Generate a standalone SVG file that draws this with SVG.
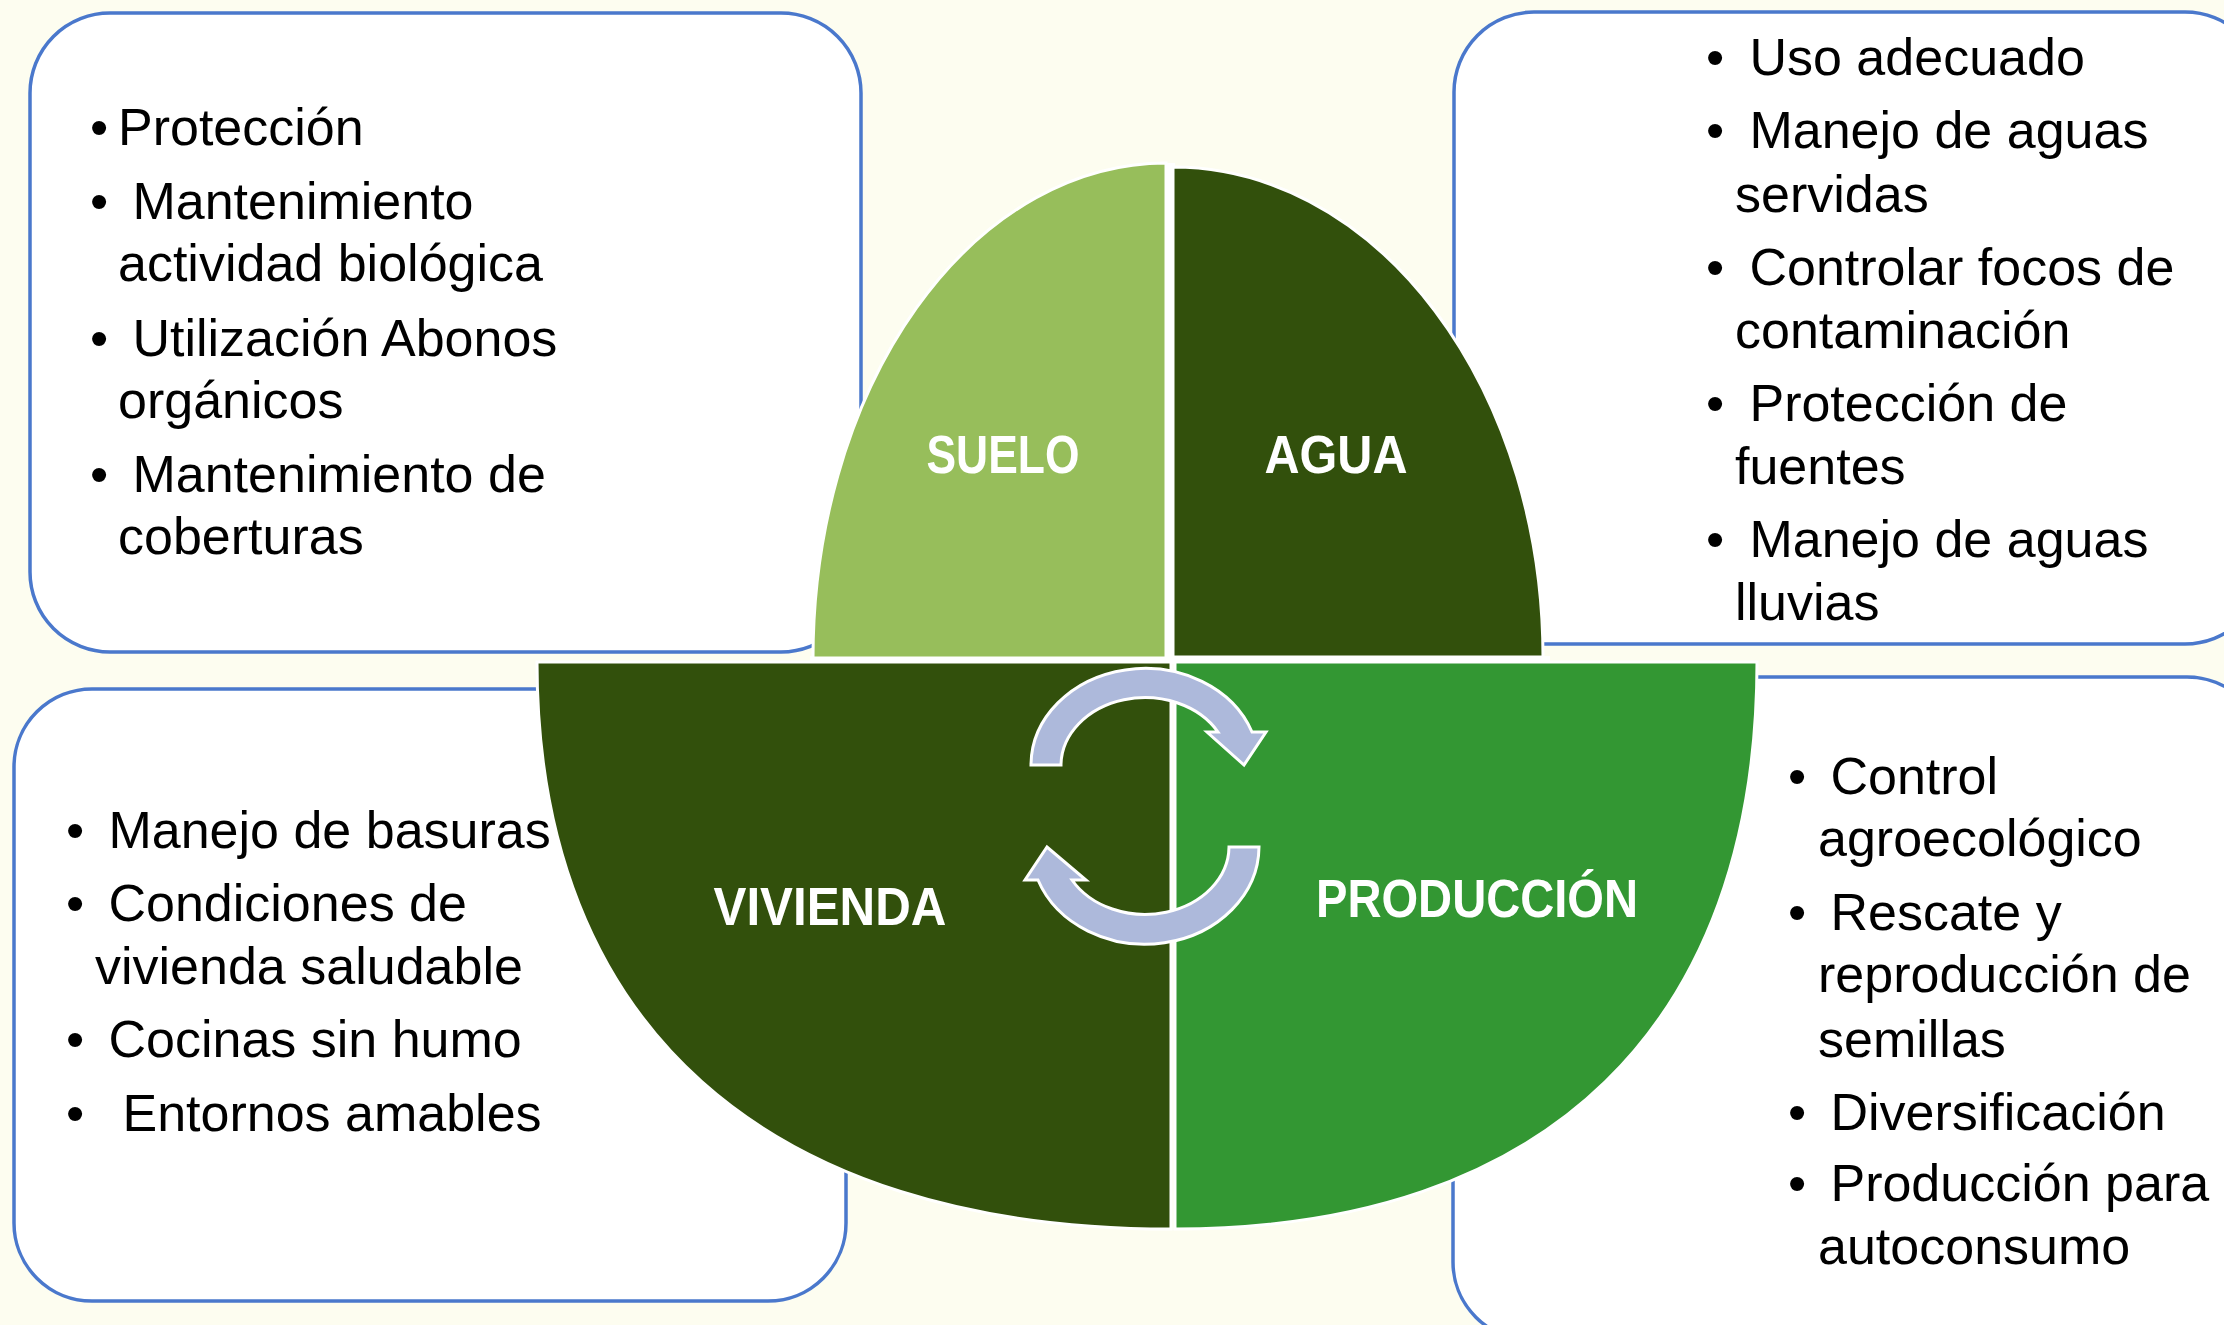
<svg xmlns="http://www.w3.org/2000/svg" width="2224" height="1325" viewBox="0 0 2224 1325">
<style>
.box{fill:#FFFFFF;stroke:#4A78CC;stroke-width:3.5}
.t{font-family:"Liberation Sans",Arial,sans-serif;font-size:52px;fill:#000000}
.lbl{font-family:"Liberation Sans",Arial,sans-serif;font-size:54px;font-weight:bold;fill:#FFFFFF;text-anchor:middle}
.q{stroke:#FFFFFF;stroke-width:3}
.arrow{fill:#ADB9DB;stroke:#FFFFFF;stroke-width:3;stroke-linejoin:miter}
</style>
<rect x="0" y="0" width="2224" height="1325" fill="#FDFDF0"/>

<g id="box-suelo">
<rect class="box" x="30" y="13" width="831" height="639" rx="80" ry="80"/>
<text class="t" y="145"><tspan x="90">•</tspan><tspan x="118">Protección</tspan></text>
<text class="t" y="219"><tspan x="90">•</tspan><tspan x="118"> Mantenimiento</tspan></text>
<text class="t" x="118" y="281">actividad biológica</text>
<text class="t" y="356"><tspan x="90">•</tspan><tspan x="118"> Utilización Abonos</tspan></text>
<text class="t" x="118" y="418">orgánicos</text>
<text class="t" y="492"><tspan x="90">•</tspan><tspan x="118"> Mantenimiento de</tspan></text>
<text class="t" x="118" y="554">coberturas</text>
</g>

<g id="box-agua">
<rect class="box" x="1454" y="12" width="811" height="632" rx="80" ry="80"/>
<text class="t" y="75"><tspan x="1706">•</tspan><tspan x="1735"> Uso adecuado</tspan></text>
<text class="t" y="148"><tspan x="1706">•</tspan><tspan x="1735"> Manejo de aguas</tspan></text>
<text class="t" x="1735" y="212">servidas</text>
<text class="t" y="285"><tspan x="1706">•</tspan><tspan x="1735"> Controlar focos de</tspan></text>
<text class="t" x="1735" y="348">contaminación</text>
<text class="t" y="421"><tspan x="1706">•</tspan><tspan x="1735"> Protección de</tspan></text>
<text class="t" x="1735" y="484">fuentes</text>
<text class="t" y="557"><tspan x="1706">•</tspan><tspan x="1735"> Manejo de aguas</tspan></text>
<text class="t" x="1735" y="620">lluvias</text>
</g>

<g id="box-vivienda">
<rect class="box" x="14" y="689" width="832" height="612" rx="78" ry="78"/>
<text class="t" y="848"><tspan x="66">•</tspan><tspan x="94"> Manejo de basuras</tspan></text>
<text class="t" y="921"><tspan x="66">•</tspan><tspan x="94"> Condiciones de</tspan></text>
<text class="t" x="95" y="984">vivienda saludable</text>
<text class="t" y="1057"><tspan x="66">•</tspan><tspan x="94"> Cocinas sin humo</tspan></text>
<text class="t" y="1131"><tspan x="66">•</tspan><tspan x="108"> Entornos amables</tspan></text>
</g>

<g id="box-produccion">
<rect class="box" x="1453" y="677" width="812" height="663" rx="78" ry="78"/>
<text class="t" y="794"><tspan x="1788">•</tspan><tspan x="1816"> Control</tspan></text>
<text class="t" x="1818" y="856">agroecológico</text>
<text class="t" y="930"><tspan x="1788">•</tspan><tspan x="1816"> Rescate y</tspan></text>
<text class="t" x="1818" y="992">reproducción de</text>
<text class="t" x="1818" y="1057">semillas</text>
<text class="t" y="1130"><tspan x="1788">•</tspan><tspan x="1816"> Diversificación</tspan></text>
<text class="t" y="1201"><tspan x="1788">•</tspan><tspan x="1816"> Producción para</tspan></text>
<text class="t" x="1818" y="1264">autoconsumo</text>
</g>

<rect x="1164" y="163" width="11" height="500" fill="#FFFFFF"/>
<rect x="810" y="656" width="740" height="8" fill="#FFFFFF"/>

<g id="suelo">
<path class="q" fill="#97BE5B" d="M1166 658 L813 658 A353 495 0 0 1 1166 163 Z"/>
<text class="lbl" x="1003" y="473" textLength="153" lengthAdjust="spacingAndGlyphs">SUELO</text>
</g>

<g id="agua">
<path class="q" fill="#32500C" d="M1173 657 L1173 167 A370 490 0 0 1 1543 657 Z"/>
<text class="lbl" x="1336" y="473" textLength="143" lengthAdjust="spacingAndGlyphs">AGUA</text>
</g>

<g id="vivienda">
<path class="q" fill="#32500C" d="M1171 662 L537 662 C537 1025 765 1229 1171 1229 Z"/>
<text class="lbl" x="830" y="925" textLength="233" lengthAdjust="spacingAndGlyphs">VIVIENDA</text>
</g>

<g id="produccion">
<path class="q" fill="#339733" d="M1175 662 L1757 662 C1757 1025 1547 1229 1175 1229 Z"/>
<text class="lbl" x="1477" y="917" textLength="322" lengthAdjust="spacingAndGlyphs">PRODUCCIÓN</text>
</g>

<g id="connectors">
<path class="arrow" d="M1031 765 A114 97 0 0 1 1252 732 L1266 732 L1244 765 L1207 732 L1218 732 A84 68 0 0 0 1061 765 Z"/>
<path class="arrow" d="M1259 847 A114 98 0 0 1 1038 880 L1025 880 L1047 847 L1086 880 L1072 880 A84 68 0 0 0 1229 847 Z"/>
</g>
</svg>
